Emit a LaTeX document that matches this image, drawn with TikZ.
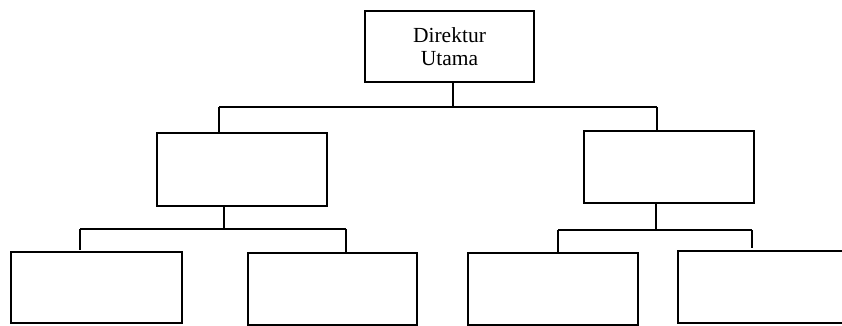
\documentclass[tikz,border=0pt]{standalone}
\usepackage{fontspec}
\setmainfont{Liberation Serif}
\begin{document}
\begin{tikzpicture}[x=1pt,y=-1pt,
  box/.style={draw, line width=1.6pt, fill=white, inner sep=0pt, minimum width=170pt, minimum height=72pt, align=center, font=\fontsize{21.5}{23}\selectfont},
  conn/.style={line width=1.6pt}]
\clip (0,0) rectangle (842,326);
\fill[white] (0,0) rectangle (842,326);
% boxes
\node[box, minimum width=169pt, minimum height=71pt] (top) at (449.5,46.5) {Direktur\\Utama};
\node[box, minimum height=73pt] (L) at (242,169.5) {};
\node[box] (R) at (669,167) {};
\node[box, minimum width=171pt, minimum height=71pt] (B1) at (96.5,287.5) {};
\node[box, minimum width=169pt] (B2) at (332.5,289) {};
\node[box] (B3) at (553,289) {};
\node[box, minimum width=172pt] (B4) at (764,287) {};
% junctions
\coordinate (t0) at (453,107);
\coordinate (hL) at (219,107);
\coordinate (hR) at (657,107);
\coordinate (lj) at (224,229);
\coordinate (l1) at (80,229);
\coordinate (l2) at (346,229);
\coordinate (rj) at (656,230);
\coordinate (r1) at (558,230);
\coordinate (r2) at (752,230);
% connectors
\draw[conn] (t0 |- top.south) -- (t0);
\draw[conn] (hL) -- (hR);
\draw[conn] (hL) -- (hL |- L.north);
\draw[conn] (hR) -- (hR |- R.north);
\draw[conn] (lj |- L.south) -- (lj);
\draw[conn] (l1) -- (l2);
\draw[conn] (l1) -- ([yshift=1pt]l1 |- B1.north);
\draw[conn] (l2) -- (l2 |- B2.north);
\draw[conn] (rj |- R.south) -- (rj);
\draw[conn] (r1) -- (r2);
\draw[conn] (r1) -- (r1 |- B3.north);
\draw[conn] (r2) -- ([yshift=2pt]r2 |- B4.north);
\end{tikzpicture}
\end{document}
